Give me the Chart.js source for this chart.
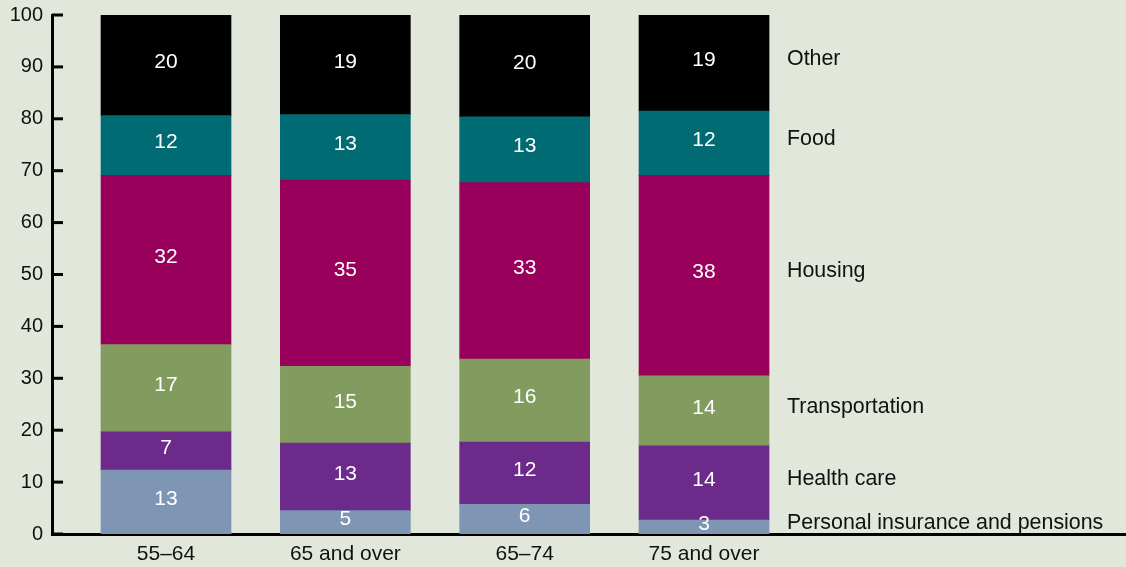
<!DOCTYPE html>
<html>
<head>
<meta charset="utf-8">
<script src="https://cdn.jsdelivr.net/npm/chart.js@4/dist/chart.umd.min.js"></script>
<style>
  html, body { margin: 0; padding: 0; background: #e1e7da; }
  #wrap { width: 1126px; height: 567px; }
</style>
</head>
<body>
<div id="wrap"><canvas id="chart" width="1126" height="567"></canvas></div>
<script>
// categories (age groups)
const categories = ["55–64", "65 and over", "65–74", "75 and over"];

// segment sizes (percent of spending)
const personalInsurance = [12.3, 4.5, 5.7, 2.7];
const healthCare = [7.4, 13.0, 12.0, 14.3];
const transportation = [16.8, 14.8, 16.0, 13.5];
const housing = [32.6, 35.9, 34.0, 38.6];
const food = [11.5, 12.6, 12.7, 12.4];
const other = [19.4, 19.2, 19.6, 18.5];

// printed numbers inside the bars
const personalInsuranceLabels = ["13", "5", "6", "3"];
const healthCareLabels = ["7", "13", "12", "14"];
const transportationLabels = ["17", "15", "16", "14"];
const housingLabels = ["32", "35", "33", "38"];
const foodLabels = ["12", "13", "13", "12"];
const otherLabels = ["20", "19", "20", "19"];

const yTicks = [0, 10, 20, 30, 40, 50, 60, 70, 80, 90, 100];

const FONT = "'Liberation Sans', Arial, sans-serif";

const series = [
  { name: "Personal insurance and pensions", values: personalInsurance, labels: personalInsuranceLabels, color: "#7e96b3" },
  { name: "Health care", values: healthCare, labels: healthCareLabels, color: "#6c2a8b" },
  { name: "Transportation", values: transportation, labels: transportationLabels, color: "#829b5e" },
  { name: "Housing", values: housing, labels: housingLabels, color: "#99005b" },
  { name: "Food", values: food, labels: foodLabels, color: "#006b73" },
  { name: "Other", values: other, labels: otherLabels, color: "#000000" },
];

const toPoints = (values) => values.map((v, i) => ({ x: i, y: v }));

// inward tick marks on the y axis
const yTickMarks = {
  id: "yTickMarks",
  afterDraw(chart) {
    const { ctx, scales, chartArea } = chart;
    ctx.save();
    ctx.strokeStyle = "#000";
    ctx.lineWidth = 3;
    yTicks.forEach((t) => {
      const y = scales.y.getPixelForValue(t);
      ctx.beginPath();
      ctx.moveTo(chartArea.left, y);
      ctx.lineTo(chartArea.left + 11, y);
      ctx.stroke();
    });
    ctx.restore();
  },
};

// numbers inside segments + category names beside the last bar
const segmentText = {
  id: "segmentText",
  afterDatasetsDraw(chart) {
    const ctx = chart.ctx;
    ctx.save();
    ctx.textBaseline = "middle";
    chart.data.datasets.forEach((ds, di) => {
      const meta = chart.getDatasetMeta(di);
      const s = series[di];
      ctx.font = `21px ${FONT}`;
      meta.data.forEach((bar, i) => {
        const mid = (bar.y + bar.base) / 2;
        ctx.fillStyle = "#ffffff";
        ctx.textAlign = "center";
        ctx.fillText(s.labels[i], bar.x, mid - 3);
      });
      const last = meta.data[meta.data.length - 1];
      ctx.font = `21.4px ${FONT}`;
      ctx.fillStyle = "#111111";
      ctx.textAlign = "left";
      ctx.fillText(s.name, 787, (last.y + last.base) / 2 - 4);
    });
    ctx.restore();
  },
};

const ctx = document.getElementById("chart");

new Chart(ctx, {
  type: "bar",
  data: {
    datasets: series.map((s) => ({
      label: s.name,
      data: toPoints(s.values),
      backgroundColor: s.color,
      borderWidth: 0,
      barThickness: 130,
    })),
  },
  options: {
    responsive: false,
    animation: false,
    layout: { padding: { top: 14, right: 0, bottom: 0, left: 0 } },
    plugins: {
      legend: { display: false },
      tooltip: { enabled: false },
    },
    scales: {
      x: {
        type: "linear",
        stacked: true,
        offset: false,
        grace: 0,
        min: -0.6357,
        max: 5.353,
        afterDataLimits: (scale) => {
          scale.min = -0.6357;
          scale.max = 5.353;
        },
        afterBuildTicks: (scale) => {
          scale.ticks = categories.map((c, i) => ({ value: i }));
        },
        afterFit: (scale) => {
          scale.height = 33;
        },
        ticks: {
          callback: (v) => categories[v] ?? "",
          color: "#111",
          font: { family: FONT, size: 21 },
          padding: 8,
          maxRotation: 0,
          autoSkip: false,
        },
        grid: { display: false, drawTicks: false, offset: false },
        border: { display: true, color: "#000", width: 3 },
      },
      y: {
        stacked: true,
        min: 0,
        max: 100,
        afterBuildTicks: (scale) => {
          scale.ticks = yTicks.map((v) => ({ value: v }));
        },
        afterFit: (scale) => {
          scale.width = 52;
        },
        ticks: {
          color: "#111",
          font: { family: FONT, size: 20, lineHeight: 0.6 },
          padding: 9,
        },
        grid: { display: false, drawTicks: false },
        border: { display: true, color: "#000", width: 3 },
      },
    },
  },
  plugins: [yTickMarks, segmentText],
});
</script>
</body>
</html>
